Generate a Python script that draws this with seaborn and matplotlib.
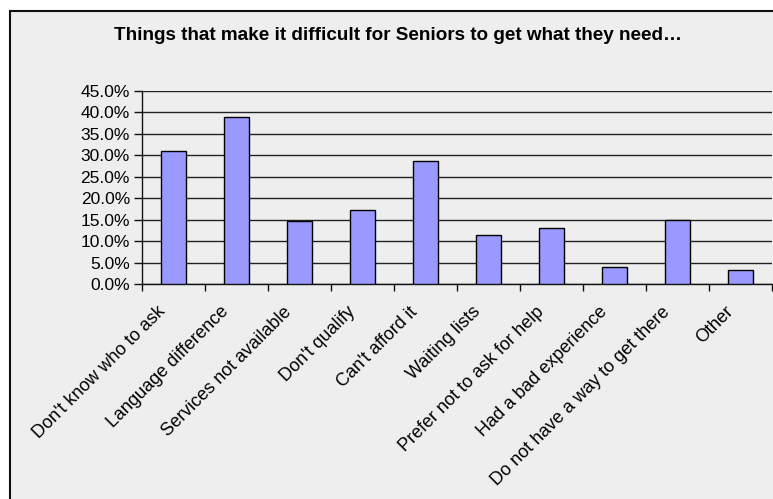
import matplotlib
matplotlib.use("Agg")
import matplotlib.pyplot as plt
import matplotlib.transforms as mtransforms
from matplotlib.patches import Rectangle
from matplotlib.ticker import FixedLocator, PercentFormatter
import seaborn as sns
import pandas as pd

# Survey responses: share of respondents naming each barrier
categories = [
    "Don't know who to ask",
    "Language difference",
    "Services not available",
    "Don't qualify",
    "Can't afford it",
    "Waiting lists",
    "Prefer not to ask for help",
    "Had a bad experience",
    "Do not have a way to get there",
    "Other",
]
shares = [31.1, 39.0, 14.7, 17.2, 28.6, 11.5, 13.2, 4.0, 15.0, 3.3]
y_ticks = [0, 5, 10, 15, 20, 25, 30, 35, 40, 45]
title = "Things that make it difficult for Seniors to get what they need\u2026"

df = pd.DataFrame({"category": categories, "share": shares})

sns.set_theme(style="white")
plt.rcParams["font.family"] = ["Liberation Sans", "DejaVu Sans"]

W, H, DPI = 773, 499, 100
fig = plt.figure(figsize=(W / DPI, H / DPI), dpi=DPI, facecolor="white")

# chart-area panel with dark border
panel = Rectangle((10 / W, -0.05), 1.1, (H - 11) / H + 0.05, transform=fig.transFigure,
                  facecolor="#EEEEEE", edgecolor="#111111", linewidth=1.5, zorder=-5)
fig.patches.append(panel)

left, right = 141.7 / W, 772 / W
bottom, top = (H - 284.3) / H, (H - 91) / H
ax = fig.add_axes([left, bottom, right - left, top - bottom])
ax.set_facecolor("none")
ax.set_zorder(2)

sns.barplot(data=df, x="category", y="share", ax=ax, color="#9999FF",
            edgecolor="black", linewidth=1.0, width=0.39, saturation=1, zorder=3)

ax.set_xlim(-0.5, len(categories) - 0.5)
ax.set_ylim(0, 45)
ax.set_yticks(y_ticks)
ax.yaxis.set_major_formatter(PercentFormatter(decimals=1))
ax.grid(axis="y", color="#222222", linewidth=1.0, zorder=1)
ax.set_axisbelow(True)
ax.set_xlabel("")
ax.set_ylabel("")

for side in ("top", "right"):
    ax.spines[side].set_visible(False)
for side in ("left", "bottom"):
    ax.spines[side].set_color("#111111")
    ax.spines[side].set_linewidth(1.0)

# category boundary ticks below the axis, labels at bar centres
ax.xaxis.set_minor_locator(FixedLocator([i - 0.5 for i in range(len(categories) + 1)]))
ax.tick_params(axis="x", which="minor", bottom=True, length=5, width=1, color="#111111")
ax.tick_params(axis="x", which="major", bottom=True, length=0, pad=18)
ax.tick_params(axis="y", left=True, length=5.5, width=1, color="#111111",
               labelsize=12.5, pad=3, labelcolor="black")

ax.set_xticks(range(len(categories)))
ax.set_xticklabels(categories, rotation=45, ha="right", va="center",
                   rotation_mode="anchor", fontsize=13, color="black")
shift = mtransforms.ScaledTranslation(-10 / DPI, 0, fig.dpi_scale_trans)
for lab in ax.get_xticklabels():
    lab.set_transform(lab.get_transform() + shift)

fig.text(398 / W, 1 - 35 / H, title, ha="center", va="center",
         fontsize=13.6, fontweight="bold", color="black")

fig.savefig("out.png", dpi=DPI, facecolor="white")
